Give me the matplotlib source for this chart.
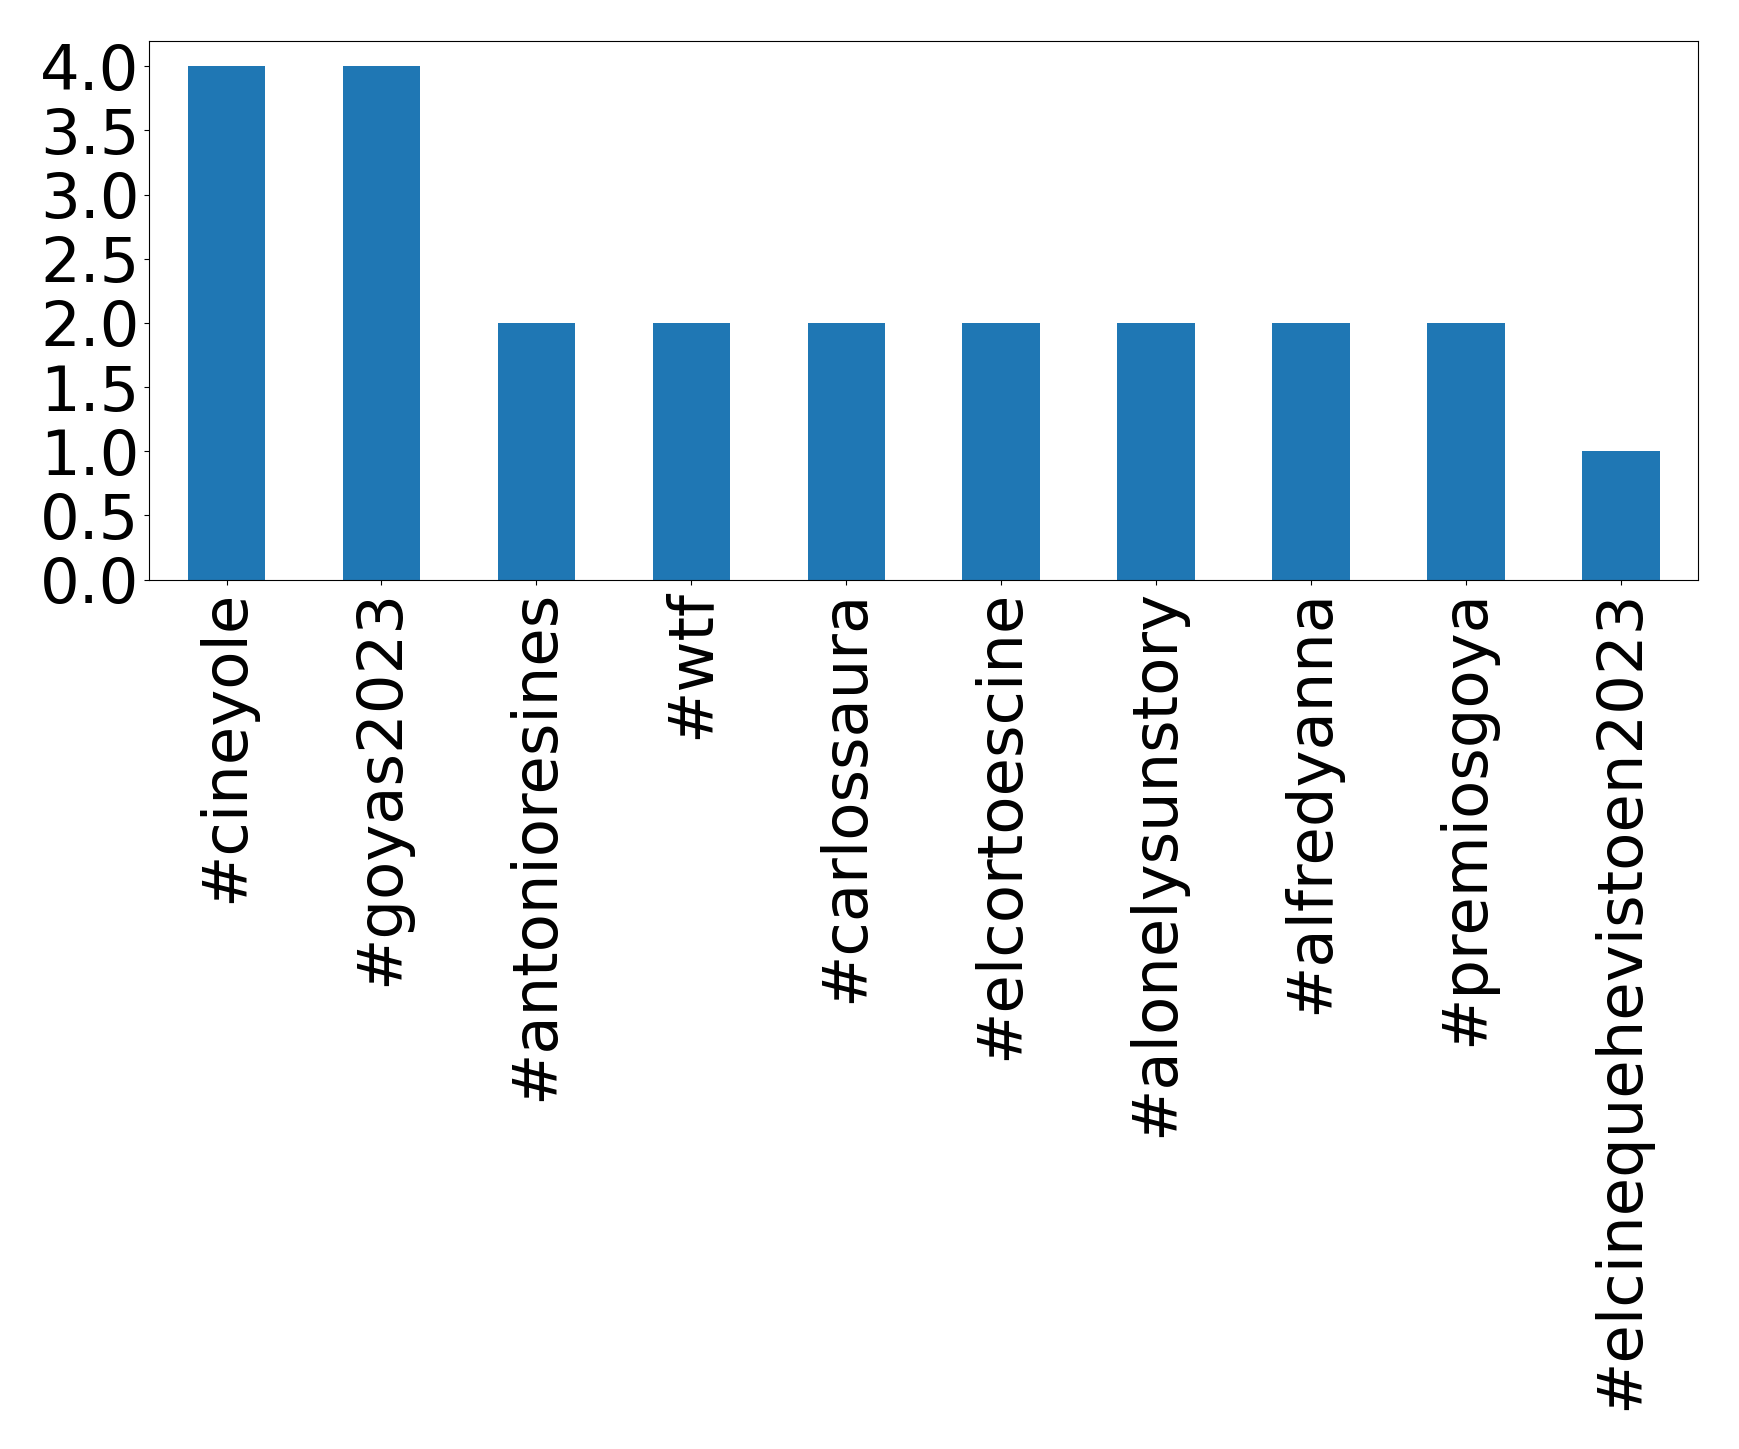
import matplotlib
matplotlib.use("Agg")
import matplotlib.pyplot as plt

hashtags = ["#cineyole", "#goyas2023", "#antonioresines", "#wtf", "#carlossaura",
            "#elcortoescine", "#alonelysunstory", "#alfredyanna", "#premiosgoya",
            "#elcinequehevistoen2023"]
counts = [4, 4, 2, 2, 2, 2, 2, 2, 2, 1]

fig = plt.figure(figsize=(17.39, 14.49), dpi=100)
ax = fig.add_axes([0.0857, 0.600, 0.891, 0.372])
x = range(len(hashtags))
ax.bar(x, counts, width=0.5, color="#1f77b4")
ax.set_xlim(-0.5, len(hashtags) - 0.5)
ax.set_ylim(0, 4.2)
ax.set_xticks(list(x), hashtags, rotation=90, fontsize=45)
ax.set_yticks([0, 0.5, 1, 1.5, 2, 2.5, 3, 3.5, 4])
ax.set_yticklabels([f"{v:.1f}" for v in ax.get_yticks()], fontsize=45)
fig.savefig("out.png", dpi=100)
